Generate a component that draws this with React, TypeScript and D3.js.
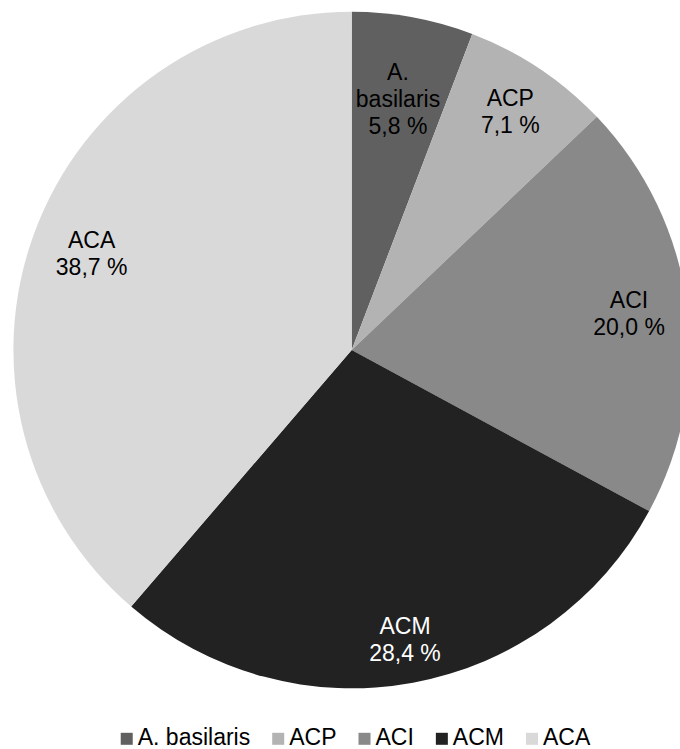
import React, { useEffect, useRef } from "react";
import * as d3 from "d3";

const categories = ["A. basilaris", "ACP", "ACI", "ACM", "ACA"];
const labelLines = [["A.", "basilaris"], ["ACP"], ["ACI"], ["ACM"], ["ACA"]];
const values = [5.8, 7.1, 20.0, 28.4, 38.7];
const valueLabels = ["5,8 %", "7,1 %", "20,0 %", "28,4 %", "38,7 %"];

const colors = ["#606060", "#b3b3b3", "#898989", "#222222", "#d9d9d9"];
const labelColors = ["#000", "#000", "#000", "#fff", "#000"];
// label placement as fraction of radius (layout constant)
const labelRadiusFrac = [0.755, 0.846, 0.827, 0.87, 0.82];

const W = 680;
const H = 749;
const CX = 351.7;
const CY = 350;
const R = 338.3;
const FONT = "'Liberation Sans', Arial, sans-serif";
const FS = 23;
const LH = 27.3;

export default function App() {
  const ref = useRef<SVGSVGElement>(null);

  useEffect(() => {
    const svg = d3.select(ref.current);
    svg.selectAll("*").remove();

    const pie = d3
      .pie<number>()
      .sort(null)
      .value((d) => d)
      .startAngle(0)
      .endAngle(2 * Math.PI);
    const arcs = pie(values);
    const arc = d3.arc<d3.PieArcDatum<number>>().innerRadius(0).outerRadius(R);

    const g = svg.append("g").attr("transform", `translate(${CX},${CY})`);
    g.selectAll("path")
      .data(arcs)
      .join("path")
      .attr("d", arc as any)
      .attr("fill", (_, i) => colors[i]);

    arcs.forEach((a, i) => {
      const mid = (a.startAngle + a.endAngle) / 2;
      const r = R * labelRadiusFrac[i];
      const x = r * Math.sin(mid);
      const y = -r * Math.cos(mid);
      const lines = [...labelLines[i], valueLabels[i]];
      const n = lines.length;
      const t = g
        .append("text")
        .attr("text-anchor", "middle")
        .attr("font-family", FONT)
        .attr("font-size", FS)
        .attr("fill", labelColors[i]);
      lines.forEach((ln, j) => {
        t.append("tspan")
          .attr("x", x)
          .attr("y", y + (j - (n - 1) / 2) * LH + FS * 0.35)
          .text(ln);
      });
    });

    // legend
    const leg = svg.append("g");
    const sq = 12;
    const gapMarkerText = 5;
    const gapItems = 22;
    const items = categories.map((c, i) => {
      const it = leg.append("g");
      it.append("rect").attr("width", sq).attr("height", sq).attr("y", -sq).attr("fill", colors[i]);
      const tx = it
        .append("text")
        .attr("x", sq + gapMarkerText)
        .attr("font-family", FONT)
        .attr("font-size", FS)
        .attr("fill", "#000")
        .text(c);
      const w = (tx.node() as SVGTextElement).getComputedTextLength();
      return { it, w: sq + gapMarkerText + w };
    });
    const total = items.reduce((s, d) => s + d.w, 0) + gapItems * (items.length - 1);
    let x0 = 355.5 - total / 2;
    items.forEach((d) => {
      d.it.attr("transform", `translate(${x0},744.8)`);
      x0 += d.w + gapItems;
    });
  }, []);

  return (
    <svg
      ref={ref}
      width={W}
      height={H}
      style={{ position: "absolute", left: 0, top: 0, background: "#fff" }}
    />
  );
}
